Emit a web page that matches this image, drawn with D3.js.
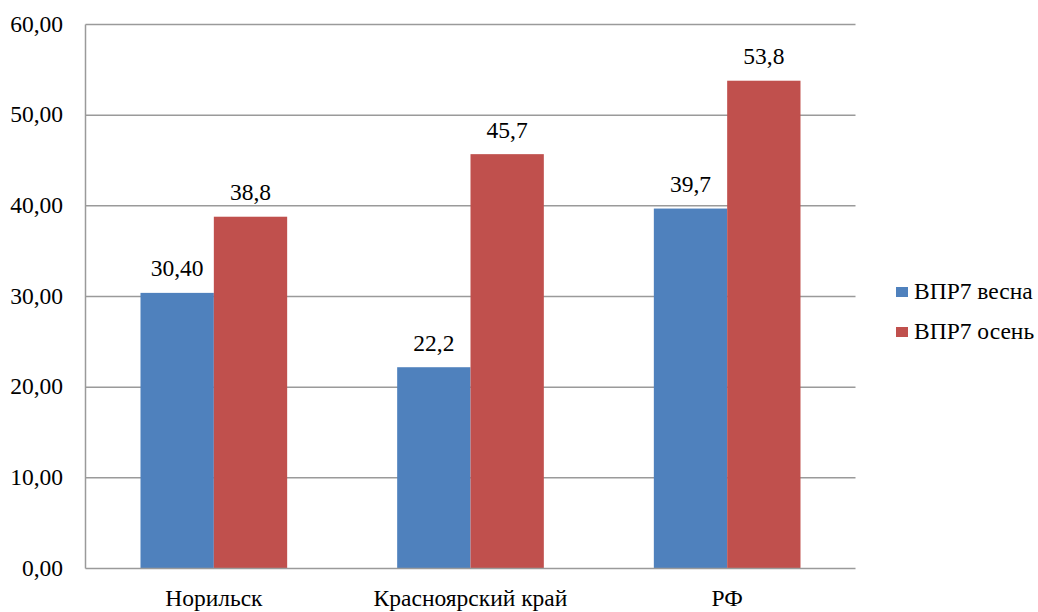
<!DOCTYPE html>
<html><head><meta charset="utf-8">
<script src="https://cdn.jsdelivr.net/npm/d3@7"></script>
<style>body{margin:0;background:#fff;font-family:"Liberation Serif","Times New Roman",Tinos,serif}</style>
</head><body>
<svg id="c" width="1038" height="612" font-family="Liberation Serif, Times New Roman, serif"></svg>
<script>
const categories = ["Норильск", "Красноярский край", "РФ"];
const seriesNames = ["ВПР7 весна", "ВПР7 осень"];
const spring = [30.40, 22.2, 39.7];
const autumn = [38.8, 45.7, 53.8];
const springLabels = ["30,40", "22,2", "39,7"];
const autumnLabels = ["38,8", "45,7", "53,8"];
const yTicks = [0, 10, 20, 30, 40, 50, 60];
const colors = ["#4F81BD", "#C0504D"];

if (document.fonts && document.fonts.load) document.fonts.load('24px "Liberation Serif"');

const svg = d3.select("#c");
const FF = '"Liberation Serif", "Times New Roman", Tinos, serif';
const FS = 23.5;
const L = 85.5, R = 855.5, T = 24.5, B = 568.5;

const x0 = d3.scaleBand().domain(categories).range([L, R]).paddingInner(0.4286).paddingOuter(0.2143);
const x1 = d3.scaleBand().domain([0, 1]).range([0, x0.bandwidth()]);
const y = d3.scaleLinear().domain([0, 60]).range([B, T]);

svg.append("g").selectAll("line").data(yTicks.filter(d => d > 0)).join("line")
  .attr("x1", L).attr("x2", R).attr("y1", d => y(d)).attr("y2", d => y(d))
  .attr("stroke", "#9a9a9a").attr("stroke-width", 1.5);

const series = [spring, autumn];
const labels = [springLabels, autumnLabels];
series.forEach((vals, s) => {
  svg.append("g").selectAll("rect").data(vals).join("rect")
    .attr("x", (d, i) => x0(categories[i]) + x1(s))
    .attr("width", x1.bandwidth())
    .attr("y", d => y(d))
    .attr("height", d => B - y(d))
    .attr("fill", colors[s]);
  svg.append("g").selectAll("text").data(vals).join("text")
    .attr("x", (d, i) => x0(categories[i]) + x1(s) + x1.bandwidth() / 2)
    .attr("y", d => y(d) - 16.5)
    .attr("text-anchor", "middle")
    .style("font-family", FF).attr("font-size", FS).attr("fill", "#000")
    .text((d, i) => labels[s][i]);
});

svg.append("line").attr("x1", L).attr("x2", L).attr("y1", T).attr("y2", B).attr("stroke", "#9a9a9a").attr("stroke-width", 1.5);
svg.append("line").attr("x1", L).attr("x2", R).attr("y1", B).attr("y2", B).attr("stroke", "#9a9a9a").attr("stroke-width", 1.5);

const fmt = d => d3.format(".2f")(d).replace(".", ",");
svg.append("g").selectAll("text").data(yTicks).join("text")
  .attr("x", 63).attr("y", d => y(d) + 7)
  .attr("text-anchor", "end")
  .style("font-family", FF).attr("font-size", FS).attr("fill", "#000")
  .text(fmt);

svg.append("g").selectAll("text").data(categories).join("text")
  .attr("x", d => x0(d) + x0.bandwidth() / 2).attr("y", 606)
  .attr("text-anchor", "middle")
  .style("font-family", FF).attr("font-size", FS).attr("fill", "#000")
  .text(d => d);

const lg = svg.append("g").selectAll("g").data(seriesNames).join("g")
  .attr("transform", (d, i) => `translate(896,${287 + i * 40})`);
lg.append("rect").attr("width", 12).attr("height", 10).attr("fill", (d, i) => colors[i]);
lg.append("text").attr("x", 18).attr("y", 12)
  .style("font-family", FF).attr("font-size", FS).attr("fill", "#000")
  .text(d => d);
</script>
</body></html>
